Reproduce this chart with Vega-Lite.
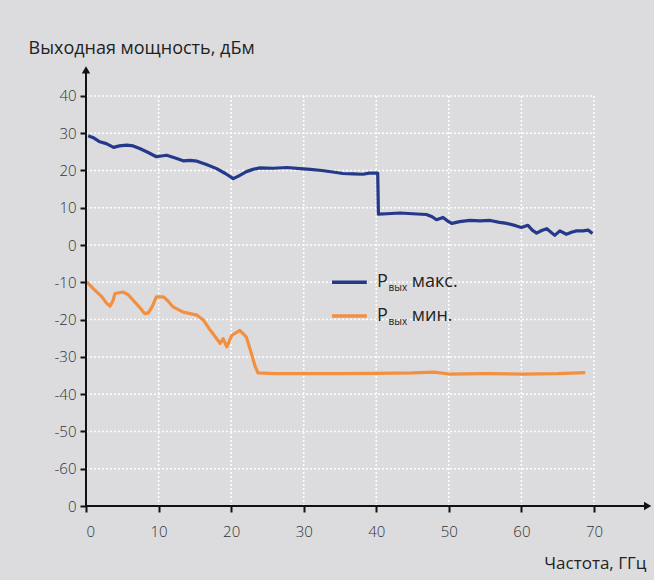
{
  "$schema": "https://vega.github.io/schema/vega-lite/v6.json",
  "autosize": "none",
  "width": 566,
  "height": 441,
  "padding": {"left": 86, "top": 65, "right": 2, "bottom": 74},
  "background": "#dcdcde",
  "config": {
    "view": {"stroke": null},
    "font": "Open Sans"
  },
  "datasets": {
    "lines": [
      {"series": "max", "f": 0.3, "v": 29.3}, {"series": "max", "f": 1.0, "v": 28.8}, {"series": "max", "f": 1.9, "v": 27.7}, {"series": "max", "f": 2.8, "v": 27.2}, {"series": "max", "f": 3.8, "v": 26.2}, {"series": "max", "f": 4.6, "v": 26.6}, {"series": "max", "f": 5.6, "v": 26.8}, {"series": "max", "f": 6.5, "v": 26.6}, {"series": "max", "f": 7.4, "v": 25.9}, {"series": "max", "f": 8.5, "v": 24.9}, {"series": "max", "f": 9.7, "v": 23.7}, {"series": "max", "f": 10.4, "v": 23.9}, {"series": "max", "f": 11.1, "v": 24.1}, {"series": "max", "f": 12.2, "v": 23.4}, {"series": "max", "f": 13.4, "v": 22.6}, {"series": "max", "f": 14.3, "v": 22.7}, {"series": "max", "f": 15.3, "v": 22.5}, {"series": "max", "f": 16.6, "v": 21.6}, {"series": "max", "f": 18.0, "v": 20.5}, {"series": "max", "f": 19.2, "v": 19.2}, {"series": "max", "f": 20.3, "v": 17.8}, {"series": "max", "f": 21.2, "v": 18.7}, {"series": "max", "f": 22.1, "v": 19.7}, {"series": "max", "f": 23.0, "v": 20.3}, {"series": "max", "f": 24.0, "v": 20.7}, {"series": "max", "f": 25.8, "v": 20.6}, {"series": "max", "f": 27.7, "v": 20.8}, {"series": "max", "f": 29.5, "v": 20.5}, {"series": "max", "f": 30.9, "v": 20.3}, {"series": "max", "f": 32.5, "v": 20.0}, {"series": "max", "f": 34.0, "v": 19.6}, {"series": "max", "f": 35.4, "v": 19.2}, {"series": "max", "f": 36.8, "v": 19.1}, {"series": "max", "f": 38.2, "v": 19.0}, {"series": "max", "f": 39.0, "v": 19.3}, {"series": "max", "f": 40.2, "v": 19.3}, {"series": "max", "f": 40.3, "v": 8.3}, {"series": "max", "f": 41.5, "v": 8.4}, {"series": "max", "f": 43.3, "v": 8.6}, {"series": "max", "f": 45.0, "v": 8.4}, {"series": "max", "f": 46.9, "v": 8.2}, {"series": "max", "f": 47.7, "v": 7.6}, {"series": "max", "f": 48.3, "v": 6.8}, {"series": "max", "f": 49.2, "v": 7.4}, {"series": "max", "f": 49.8, "v": 6.5}, {"series": "max", "f": 50.4, "v": 5.8}, {"series": "max", "f": 51.5, "v": 6.3}, {"series": "max", "f": 52.9, "v": 6.6}, {"series": "max", "f": 54.3, "v": 6.5}, {"series": "max", "f": 55.7, "v": 6.6}, {"series": "max", "f": 57.0, "v": 6.1}, {"series": "max", "f": 58.0, "v": 5.8}, {"series": "max", "f": 59.2, "v": 5.2}, {"series": "max", "f": 60.0, "v": 4.7}, {"series": "max", "f": 60.9, "v": 5.3}, {"series": "max", "f": 61.5, "v": 4.0}, {"series": "max", "f": 62.1, "v": 3.2}, {"series": "max", "f": 62.8, "v": 3.9}, {"series": "max", "f": 63.5, "v": 4.4}, {"series": "max", "f": 64.6, "v": 2.6}, {"series": "max", "f": 65.3, "v": 3.8}, {"series": "max", "f": 66.2, "v": 2.9}, {"series": "max", "f": 67.0, "v": 3.5}, {"series": "max", "f": 67.6, "v": 3.8}, {"series": "max", "f": 68.5, "v": 3.8}, {"series": "max", "f": 69.2, "v": 4.0}, {"series": "max", "f": 69.8, "v": 3.1},
      {"series": "min", "f": 0.1, "v": -9.9}, {"series": "min", "f": 1.0, "v": -11.7}, {"series": "min", "f": 2.2, "v": -13.9}, {"series": "min", "f": 2.8, "v": -15.5}, {"series": "min", "f": 3.3, "v": -16.4}, {"series": "min", "f": 3.7, "v": -15.0}, {"series": "min", "f": 4.0, "v": -13.0}, {"series": "min", "f": 5.1, "v": -12.6}, {"series": "min", "f": 5.8, "v": -13.3}, {"series": "min", "f": 6.5, "v": -14.8}, {"series": "min", "f": 7.3, "v": -16.5}, {"series": "min", "f": 8.1, "v": -18.4}, {"series": "min", "f": 8.6, "v": -18.2}, {"series": "min", "f": 9.1, "v": -16.6}, {"series": "min", "f": 9.7, "v": -13.9}, {"series": "min", "f": 10.7, "v": -13.9}, {"series": "min", "f": 11.3, "v": -15.0}, {"series": "min", "f": 12.0, "v": -16.6}, {"series": "min", "f": 13.4, "v": -18.0}, {"series": "min", "f": 15.3, "v": -18.8}, {"series": "min", "f": 16.2, "v": -20.2}, {"series": "min", "f": 17.0, "v": -22.5}, {"series": "min", "f": 17.5, "v": -23.8}, {"series": "min", "f": 18.5, "v": -26.4}, {"series": "min", "f": 18.9, "v": -25.1}, {"series": "min", "f": 19.4, "v": -27.3}, {"series": "min", "f": 20.1, "v": -24.2}, {"series": "min", "f": 21.2, "v": -22.9}, {"series": "min", "f": 22.1, "v": -24.7}, {"series": "min", "f": 22.8, "v": -29.1}, {"series": "min", "f": 23.3, "v": -32.5}, {"series": "min", "f": 23.7, "v": -34.3}, {"series": "min", "f": 26.0, "v": -34.5}, {"series": "min", "f": 30.0, "v": -34.5}, {"series": "min", "f": 35.0, "v": -34.5}, {"series": "min", "f": 40.0, "v": -34.4}, {"series": "min", "f": 45.0, "v": -34.3}, {"series": "min", "f": 48.0, "v": -34.1}, {"series": "min", "f": 50.0, "v": -34.6}, {"series": "min", "f": 55.0, "v": -34.5}, {"series": "min", "f": 60.0, "v": -34.6}, {"series": "min", "f": 65.0, "v": -34.5}, {"series": "min", "f": 68.8, "v": -34.2}
    ],
    "grid": [
      {"f": 10, "f2": 10, "v": -70, "v2": 40}, {"f": 20, "f2": 20, "v": -70, "v2": 40}, {"f": 30, "f2": 30, "v": -70, "v2": 40}, {"f": 40, "f2": 40, "v": -70, "v2": 40}, {"f": 50, "f2": 50, "v": -70, "v2": 40}, {"f": 60, "f2": 60, "v": -70, "v2": 40}, {"f": 70, "f2": 70, "v": -70, "v2": 40},
      {"f": 0, "f2": 70, "v": 40, "v2": 40}, {"f": 0, "f2": 70, "v": 30, "v2": 30}, {"f": 0, "f2": 70, "v": 20, "v2": 20}, {"f": 0, "f2": 70, "v": 10, "v2": 10}, {"f": 0, "f2": 70, "v": 0, "v2": 0}, {"f": 0, "f2": 70, "v": -10, "v2": -10}, {"f": 0, "f2": 70, "v": -20, "v2": -20}, {"f": 0, "f2": 70, "v": -30, "v2": -30}, {"f": 0, "f2": 70, "v": -40, "v2": -40}, {"f": 0, "f2": 70, "v": -50, "v2": -50}, {"f": 0, "f2": 70, "v": -60, "v2": -60}
    ],
    "axes": [
      {"f": 0, "f2": 0, "v": -70, "v2": 47.0},
      {"f": 0, "f2": 77.4, "v": -70, "v2": -70}
    ],
    "arrows": [
      {"f": 0, "v": 47.0, "sh": "triangle-up"},
      {"f": 77.4, "v": -70, "sh": "triangle-right"}
    ],
    "legendLines": [
      {"series": "max", "f": 33.9, "f2": 38.7, "v": -10.0, "v2": -10.0},
      {"series": "min", "f": 33.9, "f2": 38.7, "v": -19.0, "v2": -19.0}
    ],
    "legendBig": [
      {"f": 40.1, "v": -10.0, "t": "P"}, {"f": 44.9, "v": -10.0, "t": "макс."},
      {"f": 40.1, "v": -19.0, "t": "P"}, {"f": 44.9, "v": -19.0, "t": "мин."}
    ],
    "legendSub": [
      {"f": 41.7, "v": -10.0, "t": "вых"},
      {"f": 41.7, "v": -19.0, "t": "вых"}
    ]
  },
  "encoding": {
    "x": {
      "field": "f", "type": "quantitative",
      "scale": {"domain": [0, 78], "nice": false, "zero": false},
      "axis": {
        "values": [0, 10, 20, 30, 40, 50, 60, 70],
        "grid": false, "domain": false,
        "ticks": true, "tickColor": "#111", "tickSize": 6, "tickWidth": 2,
        "labelFont": "Open Sans", "labelFontWeight": 300, "labelFontSize": 15, "labelColor": "#333", "labelPadding": 12,
        "title": "Частота, ГГц", "titleFont": "Open Sans", "titleFontWeight": 400, "titleFontSize": 17, "titleColor": "#222",
        "titleAnchor": null, "titleAlign": "right", "titleX": 560, "titleY": 57, "titleBaseline": "middle"
      }
    },
    "y": {
      "field": "v", "type": "quantitative",
      "scale": {"domain": [-70, 48.3], "nice": false, "zero": false},
      "axis": {
        "values": [-70, -60, -50, -40, -30, -20, -10, 0, 10, 20, 30, 40],
        "labelExpr": "datum.value == -70 ? '0' : toString(datum.value)",
        "grid": false, "domain": false,
        "ticks": true, "tickColor": "#111", "tickSize": 6, "tickWidth": 2,
        "labelFont": "Open Sans", "labelFontWeight": 300, "labelFontSize": 15, "labelColor": "#333", "labelPadding": 4,
        "title": "Выходная мощность, дБм", "titleFont": "Open Sans", "titleFontWeight": 400, "titleFontSize": 18, "titleColor": "#222",
        "titleAngle": 0, "titleAlign": "left", "titleX": -58, "titleY": -17, "titleBaseline": "middle"
      }
    }
  },
  "layer": [
    {
      "data": {"name": "grid"},
      "mark": {"type": "rule", "color": "#ffffff", "strokeWidth": 1.5, "strokeDash": [2, 2]},
      "encoding": {"x2": {"field": "f2"}, "y2": {"field": "v2"}}
    },
    {
      "data": {"name": "lines"},
      "mark": {"type": "line", "strokeWidth": 3.2, "strokeJoin": "round"},
      "encoding": {
        "color": {"field": "series", "type": "nominal", "scale": {"domain": ["max", "min"], "range": ["#24398a", "#f3903f"]}, "legend": null},
        "order": {"field": "f", "type": "quantitative"}
      }
    },
    {
      "data": {"name": "axes"},
      "mark": {"type": "rule", "color": "#111111", "strokeWidth": 2},
      "encoding": {"x2": {"field": "f2"}, "y2": {"field": "v2"}}
    },
    {
      "data": {"name": "arrows"},
      "mark": {"type": "point", "filled": true, "color": "#111111", "size": 70, "opacity": 1},
      "encoding": {"shape": {"field": "sh", "type": "nominal", "scale": null}}
    },
    {
      "data": {"name": "legendLines"},
      "mark": {"type": "rule", "strokeWidth": 3.5},
      "encoding": {
        "x2": {"field": "f2"}, "y2": {"field": "v2"},
        "color": {"field": "series", "type": "nominal", "scale": {"domain": ["max", "min"], "range": ["#24398a", "#f3903f"]}, "legend": null}
      }
    },
    {
      "data": {"name": "legendBig"},
      "mark": {"type": "text", "align": "left", "baseline": "middle", "font": "Open Sans", "fontSize": 18, "color": "#222"},
      "encoding": {"text": {"field": "t"}}
    },
    {
      "data": {"name": "legendSub"},
      "mark": {"type": "text", "align": "left", "baseline": "middle", "font": "Open Sans", "fontSize": 10, "color": "#222", "dy": 6},
      "encoding": {"text": {"field": "t"}}
    }
  ]
}
